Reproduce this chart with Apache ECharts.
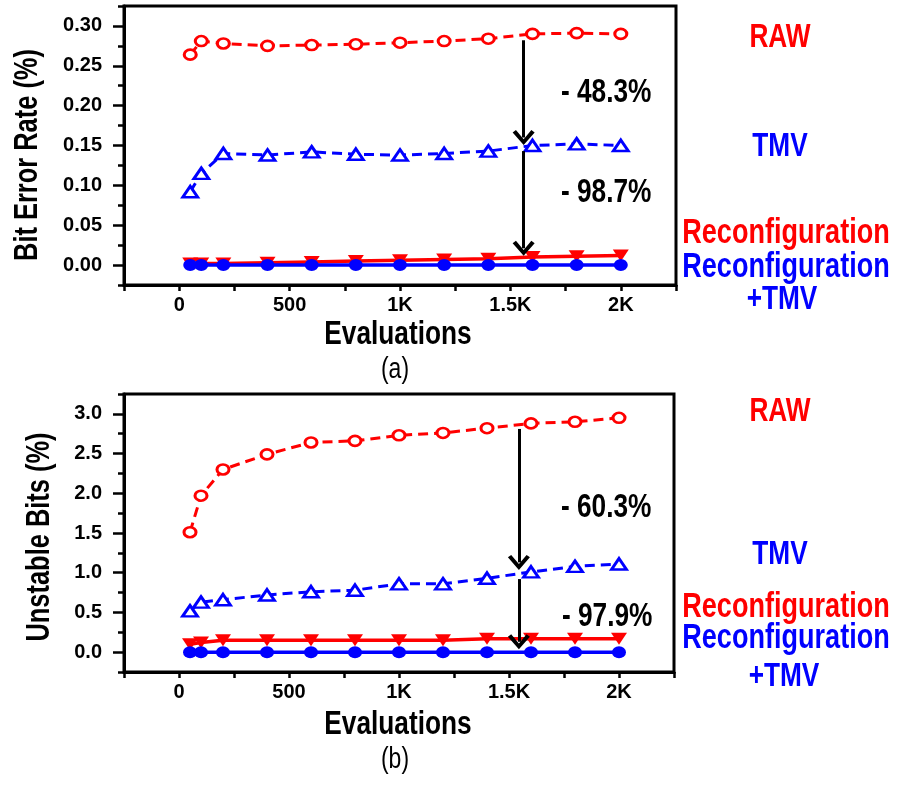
<!DOCTYPE html>
<html>
<head>
<meta charset="utf-8">
<script src="https://cdn.jsdelivr.net/npm/echarts@6/dist/echarts.min.js"></script>
<style>
html,body{margin:0;padding:0;background:#fff;}
#chart{width:897px;height:787px;}
</style>
</head>
<body>
<div id="chart"></div>
<script>
// ---- data ----
const evaluations = [50, 100, 200, 400, 600, 800, 1000, 1200, 1400, 1600, 1800, 2000];
const berRaw       = [0.264, 0.281, 0.278, 0.275, 0.276, 0.277, 0.279, 0.281, 0.284, 0.290, 0.291, 0.290];
const berTmv       = [0.092, 0.115, 0.140, 0.138, 0.142, 0.139, 0.138, 0.140, 0.143, 0.150, 0.152, 0.150];
const berReconf    = [0.002, 0.002, 0.002, 0.003, 0.004, 0.005, 0.006, 0.007, 0.008, 0.010, 0.011, 0.012];
const berReconfTmv = [0, 0, 0, 0, 0, 0, 0, 0, 0, 0, 0, 0];
const ubRaw        = [1.51, 1.97, 2.30, 2.49, 2.64, 2.66, 2.73, 2.76, 2.82, 2.88, 2.90, 2.95];
const ubTmv        = [0.52, 0.63, 0.66, 0.72, 0.76, 0.78, 0.86, 0.86, 0.93, 1.01, 1.08, 1.11];
const ubReconf     = [0.10, 0.12, 0.15, 0.15, 0.15, 0.15, 0.15, 0.15, 0.17, 0.17, 0.17, 0.17];
const ubReconfTmv  = [0, 0, 0, 0, 0, 0, 0, 0, 0, 0, 0, 0];

const xTickValues = [0, 500, 1000, 1500, 2000];
const xTickLabels = ['0', '500', '1K', '1.5K', '2K'];
const yTicksA = [0, 0.05, 0.10, 0.15, 0.20, 0.25, 0.30];
const yTicksB = [0, 0.5, 1.0, 1.5, 2.0, 2.5, 3.0];

// arrows: [x, yFrom, yTo]
const arrowsA = [[1560, 0.282, 0.160], [1560, 0.143, 0.021]];
const arrowsB = [[1545, 2.81, 1.13], [1545, 0.92, 0.13]];
const reductionsA = ['- 48.3%', '- 98.7%'];
const reductionsB = ['- 60.3%', '- 97.9%'];
const seriesNames = ['RAW', 'TMV', 'Reconfiguration', 'Reconfiguration\n+TMV'];

// ---- chart ----
const FONT = "'Liberation Sans', Arial, sans-serif";
const NARROW = 0.82;
const RED = '#ff0000', BLUE = '#0000ff';
const chevron = 'path://M0,13 L10,0 L20,13 L17,15.5 L10,6 L3,15.5 Z';

function pairs(ys) { return evaluations.map((x, i) => [x, ys[i]]); }

function xAxisFor(gi) {
  return {
    gridIndex: gi, type: 'value', min: -250, max: 2250, interval: 250,
    axisLine: { show: true, onZero: false, lineStyle: { color: '#000', width: 3 } },
    axisTick: { show: true, length: 6, lineStyle: { color: '#000', width: 2.5 } },
    axisLabel: {
      margin: 10, color: '#000', fontFamily: FONT, fontWeight: 'bold', fontSize: 20,
      formatter: v => { const i = xTickValues.indexOf(v); return i >= 0 ? xTickLabels[i] : ''; }
    },
    splitLine: { show: false }
  };
}
function yAxisMain(gi, min, max, ticks, dec) {
  return {
    gridIndex: gi, type: 'value', min: min, max: max, position: 'left',
    axisLine: { show: true, onZero: false, lineStyle: { color: '#000', width: 3 } },
    axisTick: { show: true, length: 11, customValues: ticks, lineStyle: { color: '#000', width: 2.5 } },
    axisLabel: {
      margin: 22, customValues: ticks, color: '#000', fontFamily: FONT, fontWeight: 'bold', fontSize: 20,
      formatter: v => v.toFixed(dec)
    },
    splitLine: { show: false }
  };
}
function yAxisMinor(gi, min, max, step) {
  return {
    gridIndex: gi, type: 'value', min: min, max: max, interval: step, position: 'left',
    axisLine: { show: false, onZero: false }, axisLabel: { show: false }, splitLine: { show: false },
    axisTick: { show: true, length: 6, lineStyle: { color: '#000', width: 2.5 } }
  };
}

function arrowMark(list) {
  return {
    silent: true, animation: false,
    symbol: ['none', chevron], symbolSize: [22, 15],
    lineStyle: { color: '#000', width: 3, type: 'solid' },
    label: { show: false },
    data: list.map(a => [{ coord: [a[0], a[1]] }, { coord: [a[0], a[2]] }])
  };
}

function makeSeries(xi, yi, raw, tmv, rec, recTmv, arrows) {
  return [
    {
      name: seriesNames[0], type: 'line', xAxisIndex: xi, yAxisIndex: yi, data: pairs(raw),
      lineStyle: { color: RED, width: 3, type: [10, 6] },
      symbol: 'circle', symbolSize: [12, 10],
      itemStyle: { color: '#fff', borderColor: RED, borderWidth: 2.8 },
      markLine: arrowMark(arrows), z: 3
    },
    {
      name: seriesNames[1], type: 'line', xAxisIndex: xi, yAxisIndex: yi, data: pairs(tmv),
      lineStyle: { color: BLUE, width: 3, type: [10, 6] },
      symbol: 'triangle', symbolSize: [15, 11],
      itemStyle: { color: '#fff', borderColor: BLUE, borderWidth: 2.8 }, z: 3
    },
    {
      name: seriesNames[2], type: 'line', xAxisIndex: xi, yAxisIndex: yi, data: pairs(rec),
      lineStyle: { color: RED, width: 3.5 },
      symbol: 'triangle', symbolRotate: 180, symbolSize: [16, 12],
      itemStyle: { color: RED, borderColor: RED, borderWidth: 0 }, z: 4
    },
    {
      name: seriesNames[3], type: 'line', xAxisIndex: xi, yAxisIndex: yi, data: pairs(recTmv),
      lineStyle: { color: BLUE, width: 3.5 },
      symbol: 'circle', symbolSize: [14, 12],
      itemStyle: { color: BLUE, borderColor: BLUE, borderWidth: 0 }, z: 5
    }
  ];
}

function txt(text, x, y, color, size, opts) {
  opts = opts || {};
  return {
    type: 'text', x: x, y: y, rotation: opts.rot || 0, scaleX: NARROW, scaleY: opts.sy || 1.05, z: 100,
    style: {
      text: text, fill: color, align: opts.align || 'center', verticalAlign: 'middle',
      font: (opts.normal ? 'normal ' : 'bold ') + size + 'px ' + FONT
    }
  };
}

const graphics = [
  txt('Bit Error Rate (%)', 28, 155, '#000', 31, { rot: Math.PI / 2 }),
  txt('Evaluations', 398, 335, '#000', 32),
  txt('(a)', 395, 370, '#000', 28, { normal: true }),
  txt(seriesNames[0], 780, 38, RED, 32),
  txt(seriesNames[1], 780, 147, BLUE, 32),
  txt(seriesNames[2], 786, 233, RED, 33),
  txt('Reconfiguration', 786, 267, BLUE, 33),
  txt('+TMV', 782, 300, BLUE, 32),
  txt(reductionsA[0], 561, 93, '#000', 32, { align: 'left' }),
  txt(reductionsA[1], 561, 193, '#000', 32, { align: 'left' }),

  txt('Unstable Bits (%)', 40, 537, '#000', 31, { rot: Math.PI / 2 }),
  txt('Evaluations', 398, 725, '#000', 32),
  txt('(b)', 395, 760, '#000', 28, { normal: true }),
  txt(seriesNames[0], 780, 412, RED, 32),
  txt(seriesNames[1], 780, 555, BLUE, 32),
  txt(seriesNames[2], 786, 607, RED, 33),
  txt('Reconfiguration', 786, 638, BLUE, 33),
  txt('+TMV', 784, 677, BLUE, 32),
  txt(reductionsB[0], 561, 508, '#000', 32, { align: 'left' }),
  txt(reductionsB[1], 562, 617, '#000', 32, { align: 'left' })
];

const option = {
  animation: false,
  backgroundColor: '#fff',
  grid: [
    { left: 124, top: 6, width: 552, height: 279, show: true, borderColor: '#000', borderWidth: 3, containLabel: false },
    { left: 124, top: 394, width: 550, height: 278, show: true, borderColor: '#000', borderWidth: 3, containLabel: false }
  ],
  xAxis: [xAxisFor(0), xAxisFor(1)],
  yAxis: [
    yAxisMain(0, -0.025, 0.325, yTicksA, 2),
    yAxisMinor(0, -0.025, 0.325, 0.025),
    yAxisMain(1, -0.25, 3.25, yTicksB, 1),
    yAxisMinor(1, -0.25, 3.25, 0.25)
  ],
  series: [].concat(
    makeSeries(0, 0, berRaw, berTmv, berReconf, berReconfTmv, arrowsA),
    makeSeries(1, 2, ubRaw, ubTmv, ubReconf, ubReconfTmv, arrowsB)
  ),
  graphic: graphics
};

const chart = echarts.init(document.getElementById('chart'), null, { renderer: 'canvas' });
chart.setOption(option);
</script>
</body>
</html>
